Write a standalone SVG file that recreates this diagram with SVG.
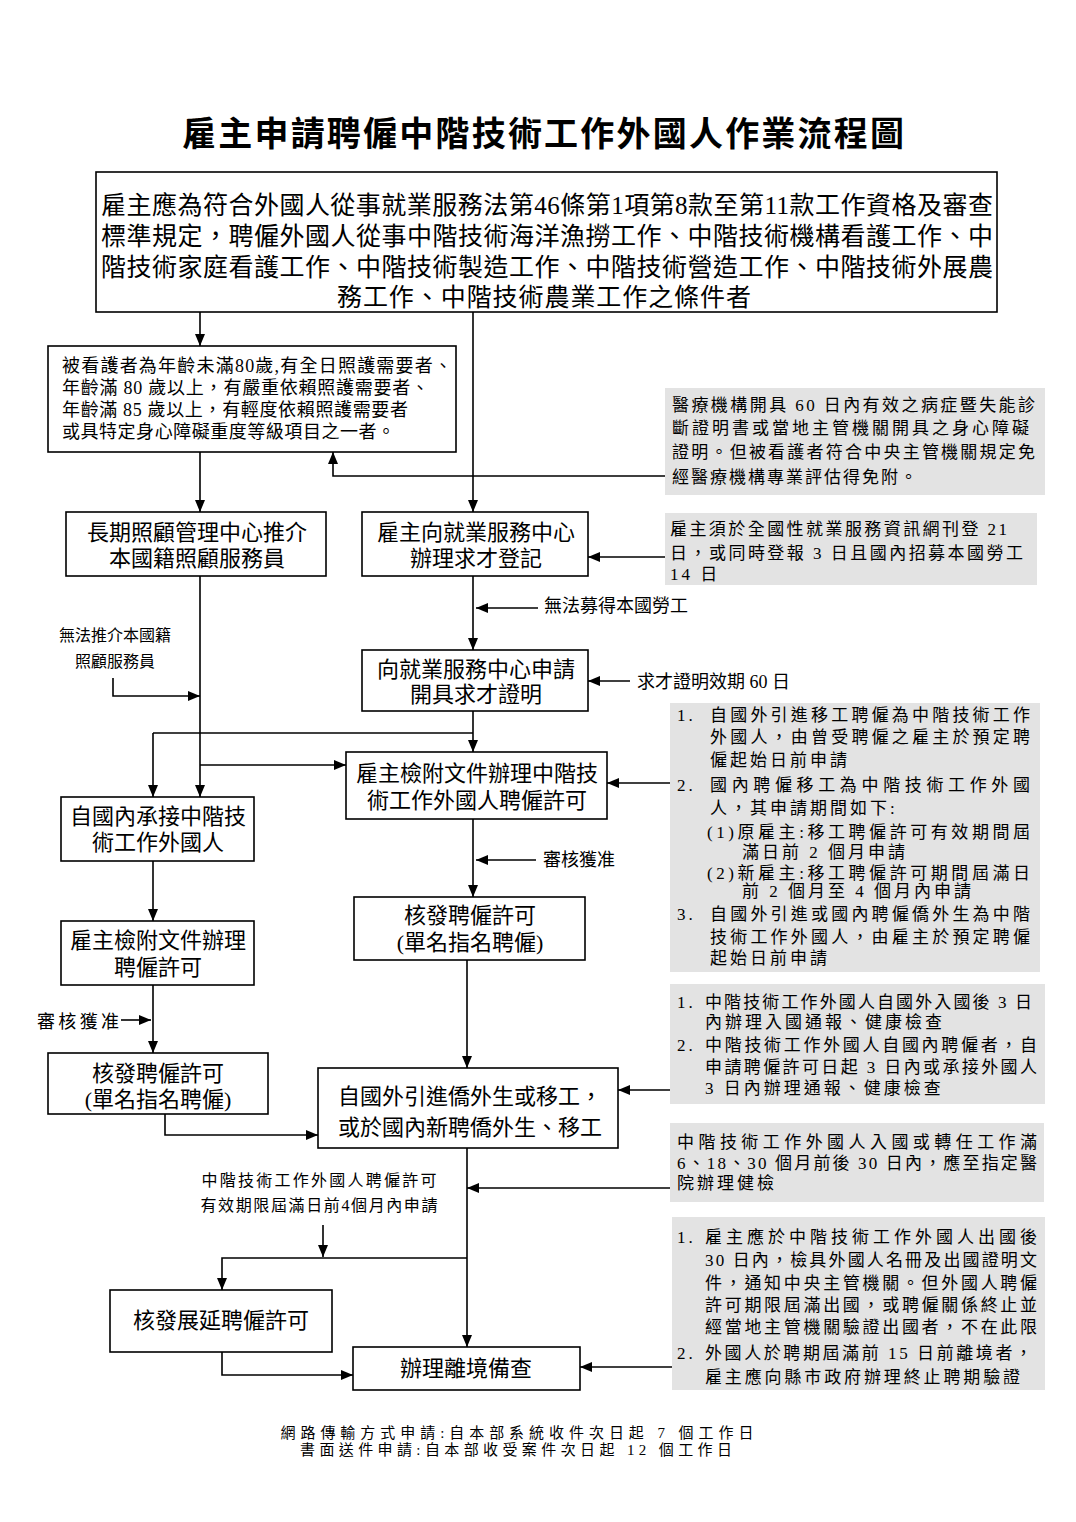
<svg xmlns="http://www.w3.org/2000/svg" width="1076" height="1522" viewBox="0 0 1076 1522">
<style>
.t{font-family:"Liberation Serif","Noto Sans CJK TC",serif;fill:#000}
.box{fill:#fff;stroke:#000;stroke-width:1.6}
.note{fill:#e3e3e3;stroke:none}
.c{fill:none;stroke:#000;stroke-width:1.6}
.a{marker-end:url(#arr)}
.m{text-anchor:middle}
.f22{font-size:22px}
.f25{font-size:25px}
.f18{font-size:18px}
.f17{font-size:17px;letter-spacing:3px}
.f16{font-size:16px}
.f15{font-size:15px}
</style>
<defs>
<marker id="arr" markerUnits="userSpaceOnUse" markerWidth="12" markerHeight="10" refX="12" refY="5" orient="auto">
<path d="M0,0 L12,5 L0,10 z" fill="#000"/>
</marker>
</defs>
<rect width="1076" height="1522" fill="#fff"/>
<text class="t m" x="543" y="146" font-size="34" font-weight="bold" textLength="722">雇主申請聘僱中階技術工作外國人作業流程圖</text>

<g id="n_top">
<rect class="box" x="96" y="172" width="901" height="140"/>
<text class="t f25" x="101" y="214" textLength="892">雇主應為符合外國人從事就業服務法第46條第1項第8款至第11款工作資格及審查</text>
<text class="t f25" x="101" y="245" textLength="892">標準規定，聘僱外國人從事中階技術海洋漁撈工作、中階技術機構看護工作、中</text>
<text class="t f25" x="101" y="276" textLength="892">階技術家庭看護工作、中階技術製造工作、中階技術營造工作、中階技術外展農</text>
<text class="t f25 m" x="544" y="306" textLength="414">務工作、中階技術農業工作之條件者</text>
</g>

<g id="n_care">
<rect class="box" x="48" y="346" width="408" height="106"/>
<text class="t f18" x="62" y="372" textLength="390">被看護者為年齡未滿80歲,有全日照護需要者、</text>
<text class="t f18" x="62" y="394" textLength="367">年齡滿 80 歲以上，有嚴重依賴照護需要者、</text>
<text class="t f18" x="62" y="416" textLength="346">年齡滿 85 歲以上，有輕度依賴照護需要者</text>
<text class="t f18" x="62" y="438" textLength="333">或具特定身心障礙重度等級項目之一者。</text>
</g>

<g id="note1">
<rect class="note" x="665" y="388" width="380" height="107"/>
<text class="t f17" x="672" y="411" textLength="366">醫療機構開具 60 日內有效之病症暨失能診</text>
<text class="t f17" x="672" y="434" textLength="360">斷證明書或當地主管機關開具之身心障礙</text>
<text class="t f17" x="672" y="458" textLength="366">證明。但被看護者符合中央主管機關規定免</text>
<text class="t f17" x="672" y="483" textLength="248">經醫療機構專業評估得免附。</text>
</g>

<g id="n_ltc">
<rect class="box" x="66" y="512" width="260" height="64"/>
<text class="t f22 m" x="197" y="540">長期照顧管理中心推介</text>
<text class="t f22 m" x="197" y="566">本國籍照顧服務員</text>
</g>

<g id="n_reg">
<rect class="box" x="362" y="512" width="226" height="64"/>
<text class="t f22 m" x="476" y="540">雇主向就業服務中心</text>
<text class="t f22 m" x="476" y="566">辦理求才登記</text>
</g>

<g id="note2">
<rect class="note" x="665" y="513" width="372" height="72"/>
<text class="t f17" x="670" y="535" textLength="340">雇主須於全國性就業服務資訊網刊登 21</text>
<text class="t f17" x="670" y="559" textLength="356">日，或同時登報 3 日且國內招募本國勞工</text>
<text class="t f17" x="670" y="580">14 日</text>
</g>

<g id="n_cert">
<rect class="box" x="362" y="650" width="226" height="61"/>
<text class="t f22 m" x="476" y="677">向就業服務中心申請</text>
<text class="t f22 m" x="476" y="702">開具求才證明</text>
</g>

<g id="n_apply">
<rect class="box" x="346" y="752" width="261" height="67"/>
<text class="t f22 m" x="477" y="781">雇主檢附文件辦理中階技</text>
<text class="t f22 m" x="477" y="808">術工作外國人聘僱許可</text>
</g>

<g id="note3">
<rect class="note" x="670" y="703" width="370" height="269"/>
<text class="t f17" x="677" y="721">1.</text>
<text class="t f17" x="710" y="721" textLength="323">自國外引進移工聘僱為中階技術工作</text>
<text class="t f17" x="710" y="743" textLength="323">外國人，由曾受聘僱之雇主於預定聘</text>
<text class="t f17" x="710" y="766">僱起始日前申請</text>
<text class="t f17" x="677" y="791">2.</text>
<text class="t f17" x="710" y="791" textLength="323">國內聘僱移工為中階技術工作外國</text>
<text class="t f17" x="710" y="814">人，其申請期間如下:</text>
<text class="t f17" x="707" y="838" textLength="326">(1)原雇主:移工聘僱許可有效期間屆</text>
<text class="t f17" x="742" y="858">滿日前 2 個月申請</text>
<text class="t f17" x="707" y="879" textLength="326">(2)新雇主:移工聘僱許可期間屆滿日</text>
<text class="t f17" x="742" y="897">前 2 個月至 4 個月內申請</text>
<text class="t f17" x="677" y="920">3.</text>
<text class="t f17" x="710" y="920" textLength="323">自國外引進或國內聘僱僑外生為中階</text>
<text class="t f17" x="710" y="943" textLength="323">技術工作外國人，由雇主於預定聘僱</text>
<text class="t f17" x="710" y="964">起始日前申請</text>
</g>

<g id="n_domestic">
<rect class="box" x="61" y="797" width="193" height="64"/>
<text class="t f22 m" x="158" y="824">自國內承接中階技</text>
<text class="t f22 m" x="158" y="850">術工作外國人</text>
</g>

<g id="n_permit_r">
<rect class="box" x="354" y="897" width="231" height="63"/>
<text class="t f22 m" x="470" y="923">核發聘僱許可</text>
<text class="t f22 m" x="470" y="950">(單名指名聘僱)</text>
</g>

<g id="n_apply_l">
<rect class="box" x="61" y="921" width="193" height="64"/>
<text class="t f22 m" x="158" y="948">雇主檢附文件辦理</text>
<text class="t f22 m" x="158" y="975">聘僱許可</text>
</g>

<g id="n_permit_l">
<rect class="box" x="48" y="1053" width="220" height="61"/>
<text class="t f22 m" x="158" y="1081">核發聘僱許可</text>
<text class="t f22 m" x="158" y="1107">(單名指名聘僱)</text>
</g>

<g id="note4">
<rect class="note" x="670" y="984" width="375" height="120"/>
<text class="t f17" x="677" y="1008">1.</text>
<text class="t f17" x="705" y="1008" textLength="330">中階技術工作外國人自國外入國後 3 日</text>
<text class="t f17" x="705" y="1028">內辦理入國通報、健康檢查</text>
<text class="t f17" x="677" y="1051">2.</text>
<text class="t f17" x="705" y="1051" textLength="335">中階技術工作外國人自國內聘僱者，自</text>
<text class="t f17" x="705" y="1073" textLength="335">申請聘僱許可日起 3 日內或承接外國人</text>
<text class="t f17" x="705" y="1094">3 日內辦理通報、健康檢查</text>
</g>

<g id="n_intro">
<rect class="box" x="318" y="1068" width="300" height="80"/>
<text class="t f22 m" x="470" y="1104">自國外引進僑外生或移工，</text>
<text class="t f22 m" x="470" y="1135">或於國內新聘僑外生、移工</text>
</g>

<g id="note5">
<rect class="note" x="670" y="1123" width="374" height="79"/>
<text class="t f17" x="677" y="1148" textLength="363">中階技術工作外國人入國或轉任工作滿</text>
<text class="t f17" x="677" y="1169" textLength="363">6、18、30 個月前後 30 日內，應至指定醫</text>
<text class="t f17" x="677" y="1189">院辦理健檢</text>
</g>

<g id="n_ext">
<rect class="box" x="110" y="1290" width="222" height="62"/>
<text class="t f22 m" x="221" y="1328">核發展延聘僱許可</text>
</g>

<g id="n_exit">
<rect class="box" x="353" y="1347" width="227" height="43"/>
<text class="t f22 m" x="466" y="1376">辦理離境備查</text>
</g>

<g id="note6">
<rect class="note" x="672" y="1217" width="373" height="173"/>
<text class="t f17" x="677" y="1243">1.</text>
<text class="t f17" x="705" y="1243" textLength="335">雇主應於中階技術工作外國人出國後</text>
<text class="t f17" x="705" y="1266" textLength="335">30 日內，檢具外國人名冊及出國證明文</text>
<text class="t f17" x="705" y="1289" textLength="335">件，通知中央主管機關。但外國人聘僱</text>
<text class="t f17" x="705" y="1311" textLength="335">許可期限屆滿出國，或聘僱關係終止並</text>
<text class="t f17" x="705" y="1333" textLength="335">經當地主管機關驗證出國者，不在此限</text>
<text class="t f17" x="677" y="1359">2.</text>
<text class="t f17" x="705" y="1359" textLength="330">外國人於聘期屆滿前 15 日前離境者，</text>
<text class="t f17" x="705" y="1383" textLength="318">雇主應向縣市政府辦理終止聘期驗證</text>
</g>

<g id="labels">
<text class="t f18" x="544" y="612">無法募得本國勞工</text>
<text class="t f16 m" x="115" y="641">無法推介本國籍</text>
<text class="t f16 m" x="115" y="667">照顧服務員</text>
<text class="t f18" x="637" y="688">求才證明效期 60 日</text>
<text class="t f18" x="543" y="866">審核獲准</text>
<text class="t f18" x="37" y="1028" textLength="82">審核獲准</text>
<text class="t f16 m" x="319" y="1186" textLength="235">中階技術工作外國人聘僱許可</text>
<text class="t f16 m" x="319" y="1211" textLength="237">有效期限屆滿日前4個月內申請</text>
<text class="t f15 m" x="517" y="1438" textLength="473">網路傳輸方式申請:自本部系統收件次日起 7 個工作日</text>
<text class="t f15 m" x="516" y="1455" textLength="432">書面送件申請:自本部收受案件次日起 12 個工作日</text>
</g>

<g id="connectors">
<path class="c a" d="M200,312 V346"/>
<path class="c a" d="M473,312 V512"/>
<path class="c a" d="M665,476 H333 V452"/>
<path class="c a" d="M200,452 V512"/>
<path class="c a" d="M665,557 H588"/>
<path class="c a" d="M473,576 V650"/>
<path class="c a" d="M538,608 H476"/>
<path class="c a" d="M200,576 V797"/>
<path class="c a" d="M113,678 V696 H200"/>
<path class="c a" d="M630,681 H588"/>
<path class="c a" d="M473,711 V752"/>
<path class="c" d="M473,733 H153"/>
<path class="c a" d="M153,733 V797"/>
<path class="c a" d="M200,765 H346"/>
<path class="c a" d="M670,783 H607"/>
<path class="c a" d="M473,819 V897"/>
<path class="c a" d="M536,860 H476"/>
<path class="c a" d="M153,861 V921"/>
<path class="c a" d="M153,985 V1053"/>
<path class="c a" d="M121,1020 H151"/>
<path class="c a" d="M165,1114 V1135 H318"/>
<path class="c a" d="M467,960 V1068"/>
<path class="c a" d="M670,1090 H618"/>
<path class="c a" d="M670,1188 H467"/>
<path class="c a" d="M467,1148 V1347"/>
<path class="c a" d="M323,1225 V1257"/>
<path class="c a" d="M467,1258 H222 V1290"/>
<path class="c a" d="M222,1352 V1375 H353"/>
<path class="c a" d="M672,1367 H580"/>
</g>
</svg>
